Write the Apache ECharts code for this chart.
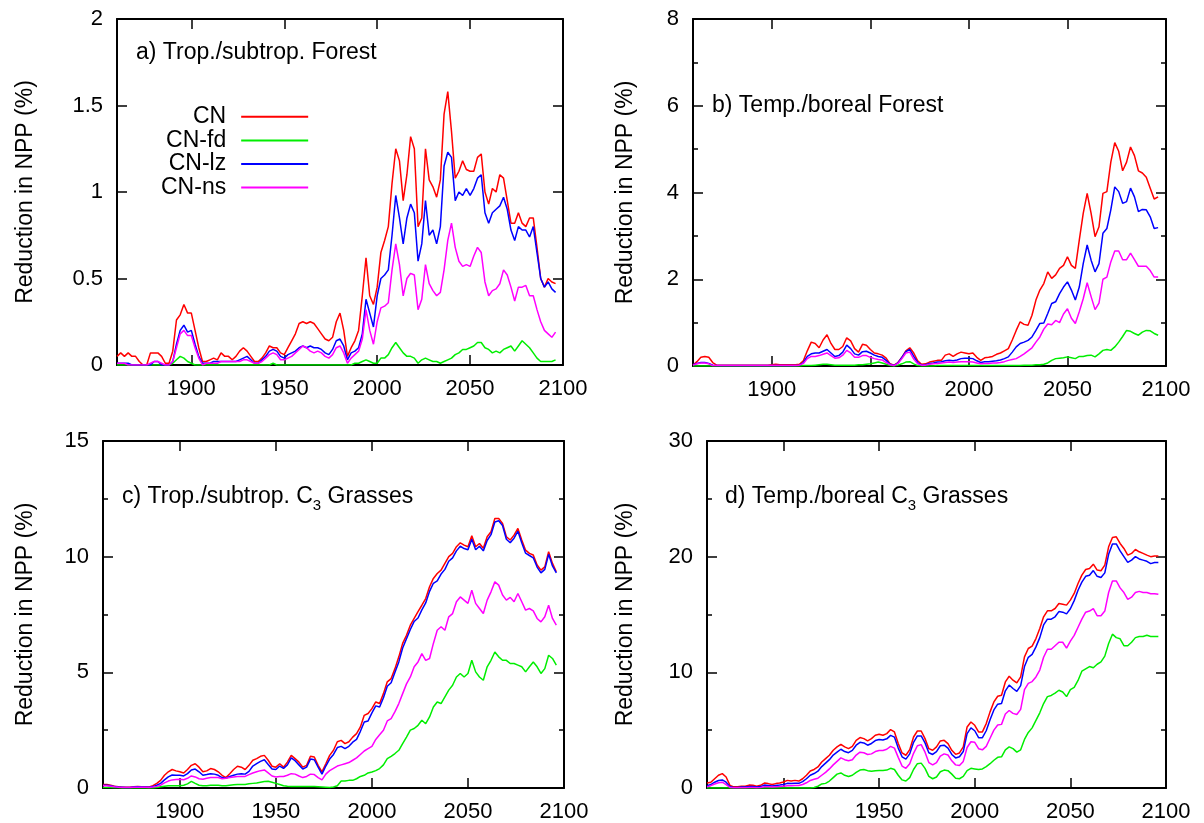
<!DOCTYPE html>
<html>
<head>
<meta charset="utf-8">
<script src="https://cdn.jsdelivr.net/npm/echarts@6/dist/echarts.min.js"></script>
<style>
html,body{margin:0;padding:0;background:#fff;}
#chart{width:1204px;height:823px;}
</style>
</head>
<body>
<div id="chart"></div>
<script>
// ---------- data (2-year steps 1860..2096) ----------
const years = Array.from({length: 119}, (_, i) => 1860 + 2 * i);
const seriesNames = ['CN', 'CN-fd', 'CN-lz', 'CN-ns'];
const xTickValues = [1900, 1950, 2000, 2050, 2100];

// a) Trop./subtrop. Forest
const aCN = [0.05,0.07,0.05,0.07,0.05,0.05,0.02,0.0,0.0,0.07,
  0.07,0.07,0.05,0.01,0.01,0.08,0.26,0.29,0.35,0.3,
  0.3,0.2,0.1,0.02,0.02,0.03,0.04,0.03,0.07,0.05,
  0.05,0.03,0.05,0.08,0.1,0.08,0.05,0.02,0.02,0.04,
  0.07,0.11,0.1,0.1,0.07,0.06,0.1,0.14,0.18,0.24,
  0.25,0.24,0.25,0.24,0.21,0.18,0.15,0.14,0.16,0.25,
  0.3,0.2,0.05,0.1,0.14,0.2,0.4,0.62,0.4,0.35,
  0.45,0.65,0.72,0.8,1.05,1.25,1.18,0.95,1.1,1.32,
  1.25,0.8,0.85,1.25,1.07,1.03,0.97,1.07,1.45,1.58,
  1.35,1.08,1.12,1.18,1.13,1.12,1.12,1.2,1.22,1.0,
  0.93,1.02,1.0,1.1,1.08,0.95,0.82,0.82,0.88,0.82,
  0.8,0.85,0.85,0.68,0.5,0.45,0.5,0.48,0.47];
const aFD = [0,0,0,0,0,0,0,0,0,0,
  0,0,0,0,0,0.01,0.03,0.05,0.04,0.02,
  0.01,0,0,0,0,0,0,0,0,0,
  0,0,0,0,0,0,0,0,0,0,
  0,0,0.01,0,0,0,0,0,0,0,
  0,0,0,0,0,0,0,0,0,0,
  0,0,0,0,0.01,0.01,0.02,0.03,0.02,0.01,
  0.01,0.04,0.04,0.06,0.1,0.13,0.1,0.07,0.05,0.05,
  0.04,0.01,0.03,0.04,0.03,0.02,0.02,0.01,0.02,0.03,
  0.04,0.06,0.07,0.09,0.09,0.1,0.11,0.13,0.13,0.1,
  0.09,0.07,0.08,0.07,0.09,0.1,0.11,0.08,0.11,0.14,
  0.12,0.1,0.07,0.04,0.02,0.02,0.02,0.02,0.03];
const aLZ = [0.01,0.01,0.01,0.01,0,0,0,0,0,0,
  0.02,0.02,0,0,0,0.02,0.12,0.2,0.23,0.19,
  0.2,0.12,0.05,0.01,0.01,0.01,0.02,0.02,0.02,0.02,
  0.02,0.02,0.02,0.03,0.04,0.05,0.03,0.01,0.01,0.03,
  0.05,0.08,0.09,0.08,0.05,0.04,0.06,0.07,0.08,0.1,
  0.11,0.1,0.11,0.1,0.1,0.09,0.07,0.06,0.09,0.14,
  0.15,0.11,0.03,0.07,0.08,0.1,0.18,0.38,0.3,0.22,
  0.4,0.5,0.52,0.55,0.75,0.98,0.85,0.7,0.85,0.93,
  0.88,0.6,0.7,0.95,0.75,0.78,0.7,0.8,1.15,1.23,
  1.2,0.95,1.0,0.98,1.02,0.98,1.02,1.08,1.1,0.88,
  0.82,0.88,0.9,0.92,0.97,0.9,0.78,0.72,0.8,0.78,
  0.78,0.74,0.8,0.65,0.5,0.45,0.48,0.44,0.42];
const aNS = [0.01,0.01,0.01,0,0,0,0,0,0,0.01,
  0.02,0.02,0.01,0,0,0.02,0.1,0.18,0.2,0.17,
  0.17,0.1,0.04,0,0.01,0.01,0.01,0.01,0.02,0.02,
  0.02,0.02,0.02,0.02,0.03,0.03,0.02,0.01,0.01,0.02,
  0.04,0.06,0.07,0.06,0.03,0.03,0.04,0.05,0.07,0.09,
  0.11,0.1,0.08,0.07,0.08,0.07,0.05,0.04,0.06,0.1,
  0.11,0.07,0.01,0.04,0.06,0.08,0.15,0.32,0.2,0.12,
  0.25,0.33,0.34,0.36,0.55,0.7,0.58,0.4,0.5,0.53,
  0.52,0.32,0.38,0.58,0.47,0.43,0.4,0.42,0.55,0.72,
  0.82,0.68,0.6,0.57,0.58,0.57,0.63,0.68,0.65,0.48,
  0.4,0.43,0.44,0.47,0.55,0.52,0.45,0.37,0.45,0.45,
  0.46,0.4,0.4,0.32,0.25,0.2,0.18,0.16,0.19];

// b) Temp./boreal Forest
const bCN = [0.02,0.1,0.2,0.22,0.2,0.08,0.02,0.02,0.02,0.02,
  0.02,0.02,0.02,0.02,0.02,0.02,0.02,0.02,0.02,0.02,
  0.03,0.04,0.03,0.03,0.03,0.03,0.03,0.04,0.12,0.35,
  0.55,0.52,0.42,0.6,0.72,0.52,0.38,0.38,0.45,0.65,
  0.58,0.4,0.32,0.5,0.48,0.38,0.3,0.28,0.25,0.18,
  0.05,0.02,0.08,0.2,0.35,0.42,0.3,0.12,0.04,0.05,
  0.09,0.11,0.13,0.13,0.25,0.28,0.22,0.28,0.32,0.3,
  0.28,0.3,0.2,0.13,0.19,0.2,0.22,0.27,0.3,0.35,
  0.4,0.6,0.82,1.02,0.96,0.94,1.17,1.52,1.75,1.9,
  2.17,2.02,2.1,2.25,2.32,2.52,2.32,2.25,2.9,3.52,
  3.98,3.52,2.98,3.21,3.98,4.02,4.7,5.15,4.95,4.5,
  4.7,5.05,4.85,4.5,4.45,4.35,4.1,3.85,3.9];
const bFD = [0,0,0,0,0,0,0,0,0,0,
  0,0,0,0,0,0,0,0,0,0,
  0,0,0,0,0,0,0,0,0.01,0.01,
  0.01,0.02,0.03,0.04,0.04,0.03,0.02,0.02,0.02,0.02,
  0.02,0.02,0.03,0.03,0.04,0.05,0.07,0.09,0.07,0.04,
  0.01,0,0.02,0.05,0.09,0.1,0.05,0.01,0,0,
  0,0,0.01,0.01,0.01,0.01,0.01,0.01,0.01,0.01,
  0.01,0.01,0.01,0.01,0.01,0.01,0.01,0.01,0.01,0.01,
  0.01,0.01,0.01,0.01,0.02,0.02,0.02,0.03,0.03,0.04,
  0.07,0.13,0.17,0.18,0.19,0.21,0.19,0.17,0.22,0.22,
  0.24,0.25,0.21,0.28,0.36,0.38,0.36,0.44,0.55,0.68,
  0.82,0.8,0.75,0.71,0.78,0.82,0.81,0.75,0.71];
const bLZ = [0.03,0.06,0.08,0.08,0.06,0.02,0.01,0.01,0.01,0.01,
  0.01,0.01,0.01,0.01,0.01,0.01,0.01,0.01,0.01,0.01,
  0.01,0.01,0.01,0.01,0.01,0.01,0.01,0.02,0.08,0.22,
  0.28,0.3,0.3,0.34,0.38,0.3,0.22,0.24,0.32,0.48,
  0.4,0.28,0.25,0.33,0.34,0.3,0.25,0.22,0.2,0.13,
  0.04,0.01,0.07,0.2,0.33,0.38,0.22,0.08,0.02,0.03,
  0.06,0.07,0.09,0.1,0.12,0.13,0.12,0.14,0.17,0.18,
  0.18,0.17,0.12,0.08,0.1,0.1,0.11,0.12,0.14,0.17,
  0.21,0.32,0.44,0.52,0.55,0.59,0.67,0.82,0.98,0.99,
  1.21,1.44,1.48,1.67,1.82,1.94,1.75,1.52,1.82,2.36,
  2.79,2.44,2.17,2.36,3.06,3.17,3.6,4.13,4.02,3.75,
  3.79,4.1,3.9,3.56,3.61,3.6,3.44,3.17,3.19];
const bNS = [0.02,0.05,0.07,0.07,0.05,0.01,0.01,0.01,0.01,0.01,
  0.01,0.01,0.01,0.01,0.01,0.01,0.01,0.01,0.01,0.01,
  0.01,0.01,0.01,0.01,0.01,0.01,0.01,0.02,0.06,0.17,
  0.22,0.22,0.24,0.27,0.3,0.24,0.18,0.19,0.25,0.36,
  0.3,0.2,0.2,0.24,0.24,0.2,0.17,0.15,0.14,0.08,
  0.03,0.01,0.06,0.17,0.3,0.32,0.16,0.05,0.02,0.02,
  0.04,0.05,0.06,0.07,0.08,0.09,0.08,0.09,0.1,0.1,
  0.1,0.09,0.07,0.05,0.06,0.06,0.07,0.07,0.08,0.1,
  0.13,0.15,0.17,0.22,0.28,0.35,0.42,0.55,0.67,0.85,
  0.97,0.95,1.05,1.0,1.2,1.32,1.1,0.98,1.25,1.55,
  1.92,1.6,1.3,1.45,2.0,2.05,2.4,2.65,2.65,2.45,
  2.45,2.6,2.45,2.3,2.3,2.3,2.2,2.05,2.05];

// c) Trop./subtrop. C3 Grasses
const cCN = [0.15,0.15,0.12,0.08,0.05,0.03,0.03,0.03,0.05,0.06,
  0.05,0.05,0.04,0.1,0.2,0.33,0.55,0.7,0.8,0.74,
  0.7,0.65,0.8,0.98,1.05,0.9,0.7,0.74,0.84,0.8,
  0.7,0.55,0.45,0.62,0.8,0.94,0.9,0.8,0.98,1.2,
  1.27,1.37,1.41,1.2,0.94,0.9,1.05,0.9,1.12,1.41,
  1.27,1.12,0.9,0.98,1.37,1.34,0.98,0.7,1.05,1.41,
  1.63,2.0,2.06,1.92,2.0,2.2,2.35,2.64,3.14,3.22,
  3.43,3.72,3.65,4.08,4.59,4.73,5.16,5.67,6.25,6.6,
  7.04,7.33,7.62,7.9,8.19,8.7,9.06,9.27,9.42,9.71,
  10.0,10.14,10.43,10.6,10.5,10.43,10.9,10.43,10.57,10.36,
  10.86,11.08,11.65,11.65,11.44,10.86,10.72,10.93,11.22,10.72,
  10.28,10.14,10.07,9.64,9.42,9.56,10.21,9.71,9.35];
const cFD = [0.02,0.02,0.02,0.01,0.01,0,0,0,0,0,
  0,0,0,0,0.02,0.05,0.08,0.1,0.1,0.1,
  0.1,0.12,0.18,0.29,0.2,0.12,0.1,0.1,0.12,0.12,
  0.12,0.1,0.1,0.12,0.14,0.15,0.15,0.15,0.18,0.2,
  0.22,0.25,0.28,0.29,0.25,0.2,0.15,0.1,0.08,0.07,
  0.07,0.06,0.06,0.06,0.07,0.06,0.05,0.04,0.03,0.02,
  0.04,0.1,0.3,0.3,0.33,0.33,0.4,0.5,0.55,0.65,
  0.69,0.75,0.84,1.0,1.27,1.37,1.49,1.63,1.92,2.2,
  2.5,2.57,2.71,2.93,2.78,3.07,3.5,3.72,3.65,3.94,
  4.23,4.44,4.8,4.95,4.8,4.95,5.52,5.02,4.8,4.66,
  5.24,5.52,5.88,5.67,5.52,5.52,5.38,5.38,5.31,5.24,
  5.02,5.24,5.45,5.24,4.95,5.16,5.74,5.6,5.31];
const cLZ = [0.12,0.12,0.1,0.06,0.04,0.03,0.02,0.02,0.04,0.05,
  0.04,0.04,0.03,0.06,0.12,0.2,0.35,0.48,0.56,0.55,
  0.55,0.52,0.62,0.78,0.82,0.7,0.55,0.58,0.62,0.6,
  0.55,0.45,0.42,0.5,0.55,0.6,0.62,0.6,0.72,0.95,
  1.05,1.15,1.22,1.02,0.82,0.8,0.95,0.85,1.0,1.3,
  1.18,1.0,0.82,0.9,1.25,1.22,0.9,0.6,0.95,1.25,
  1.45,1.75,1.8,1.7,1.8,1.98,2.1,2.45,2.85,2.9,
  3.25,3.55,3.5,3.9,4.4,4.55,5.0,5.45,6.05,6.45,
  6.85,7.2,7.35,7.7,8.0,8.5,8.85,8.95,9.25,9.45,
  9.8,9.95,10.25,10.45,10.35,10.3,10.75,10.3,10.45,10.25,
  10.7,10.95,11.5,11.55,11.35,10.75,10.6,10.8,11.1,10.6,
  10.15,10.05,9.95,9.55,9.3,9.45,10.1,9.6,9.3];
const cNS = [0.1,0.1,0.08,0.05,0.03,0.02,0.02,0.02,0.03,0.03,
  0.03,0.03,0.02,0.04,0.07,0.12,0.22,0.3,0.35,0.37,
  0.38,0.36,0.42,0.52,0.48,0.4,0.38,0.42,0.45,0.45,
  0.45,0.4,0.42,0.45,0.48,0.5,0.5,0.5,0.58,0.65,
  0.7,0.75,0.78,0.65,0.52,0.48,0.5,0.5,0.55,0.62,
  0.6,0.52,0.45,0.5,0.6,0.58,0.45,0.35,0.6,0.75,
  0.85,0.95,1.0,1.05,1.1,1.2,1.3,1.45,1.6,1.7,
  1.8,2.1,2.3,2.5,2.9,3.0,3.3,3.65,4.08,4.5,
  4.8,5.24,5.45,5.81,5.52,5.6,6.25,6.82,6.97,6.82,
  7.4,7.54,8.05,8.26,8.12,7.98,8.55,7.98,7.76,7.54,
  8.12,8.48,8.91,8.77,8.34,8.12,8.24,8.05,8.41,8.05,
  7.69,7.76,7.66,7.33,7.18,7.4,7.9,7.33,7.04];

// d) Temp./boreal C3 Grasses
const dCN = [0.43,0.5,0.8,1.1,1.24,0.95,0.23,0.1,0.1,0.15,
  0.15,0.25,0.23,0.15,0.23,0.43,0.38,0.3,0.38,0.43,
  0.52,0.66,0.6,0.66,0.6,0.8,1.1,1.47,1.6,1.82,
  2.25,2.54,2.83,3.26,3.55,3.78,3.55,3.4,3.6,4.12,
  4.36,4.27,4.07,4.27,4.56,4.64,4.56,4.7,5.05,4.85,
  3.84,3.03,2.83,3.32,4.41,4.93,4.93,4.27,3.4,3.26,
  3.55,4.07,4.12,3.84,3.26,2.91,3.03,3.55,5.28,5.71,
  5.42,4.85,4.85,5.57,6.58,7.44,7.93,8.02,9.17,9.66,
  9.32,9.09,9.6,11.34,12.06,12.26,12.92,13.79,14.8,15.32,
  15.32,15.52,15.95,15.89,15.81,16.24,16.82,17.68,18.4,18.89,
  18.98,19.35,18.84,18.78,19.27,20.85,21.66,21.72,21.14,20.71,
  20.13,20.28,20.62,20.42,20.28,20.13,20.0,20.05,20.05];
const dFD = [0,0,0,0,0,0,0,0,0,0,
  0,0,0,0,0,0,0,0,0,0,
  0,0,0,0,0,0,0,0,0.05,0.15,
  0.35,0.4,0.6,0.9,1.2,1.3,1.1,1.0,1.1,1.35,
  1.55,1.6,1.5,1.45,1.5,1.52,1.52,1.55,1.7,1.6,
  1.1,0.7,0.6,0.9,1.6,2.1,2.15,1.7,1.0,0.8,
  0.95,1.4,1.55,1.5,1.2,0.85,0.8,1.0,1.5,1.7,
  1.65,1.6,1.65,1.85,2.1,2.4,2.65,2.7,3.3,3.55,
  3.4,3.1,3.3,4.2,4.8,5.2,5.85,6.5,7.3,7.9,
  8.0,8.2,8.45,8.3,7.9,8.5,8.7,9.3,10.1,10.3,
  10.5,10.4,10.7,10.9,11.4,12.5,13.3,13.0,12.9,12.3,
  12.3,12.6,13.0,13.1,13.1,13.2,13.1,13.1,13.1];
const dLZ = [0.2,0.3,0.5,0.65,0.7,0.5,0.1,0.05,0.05,0.08,
  0.08,0.12,0.12,0.08,0.12,0.25,0.22,0.18,0.22,0.25,
  0.3,0.4,0.38,0.42,0.4,0.55,0.8,1.1,1.25,1.45,
  1.85,2.15,2.45,2.85,3.1,3.35,3.15,3.05,3.25,3.7,
  3.95,3.9,3.7,3.85,4.1,4.2,4.15,4.25,4.55,4.4,
  3.45,2.7,2.5,2.95,3.95,4.5,4.5,3.9,3.05,2.9,
  3.15,3.65,3.7,3.45,2.9,2.6,2.7,3.15,4.7,5.2,
  4.95,4.35,4.35,4.95,5.9,6.75,7.25,7.3,8.4,8.9,
  8.6,8.35,8.85,10.5,11.3,11.55,12.2,13.0,14.1,14.6,
  14.6,14.8,15.25,15.2,15.05,15.5,16.2,17.1,17.8,18.3,
  18.4,18.8,18.3,18.2,18.6,20.2,21.1,21.1,20.5,20.0,
  19.5,19.7,20.0,19.8,19.7,19.6,19.4,19.5,19.5];
const dNS = [0.1,0.2,0.35,0.45,0.5,0.3,0.05,0.02,0.02,0.03,
  0.03,0.05,0.05,0.03,0.05,0.1,0.1,0.08,0.1,0.12,
  0.15,0.2,0.2,0.22,0.22,0.3,0.45,0.65,0.75,0.85,
  1.1,1.35,1.65,2.0,2.3,2.6,2.45,2.35,2.45,2.85,
  3.1,3.05,2.9,2.95,3.15,3.25,3.25,3.35,3.6,3.45,
  2.65,1.9,1.7,2.1,3.0,3.65,3.75,3.1,2.2,2.0,
  2.2,2.75,2.95,2.85,2.35,2.0,1.95,2.3,3.5,4.0,
  3.95,3.4,3.3,3.6,4.3,5.0,5.45,5.5,6.4,6.7,
  6.45,6.35,6.8,8.5,9.05,9.2,9.6,10.2,11.3,12.0,
  12.0,12.3,12.6,12.6,12.1,12.7,13.2,13.9,14.6,15.2,
  15.3,15.5,14.9,14.9,15.3,16.9,17.9,17.9,17.3,16.9,
  16.3,16.5,16.9,17.0,16.9,16.9,16.8,16.8,16.75];

// ---------- chart ----------
const FONT = '"Liberation Sans", Arial, Helvetica, sans-serif';
const colors = ['#ff0000', '#00ee00', '#0000ff', '#ff00ff'];

const panels = [
  {grid: {left: 117, top: 19, width: 446, height: 346}, yMax: 2, yInt: 0.5, minor: false, nameGap: 80,
   data: [aCN, aFD, aLZ, aNS]},
  {grid: {left: 693, top: 19, width: 473, height: 347}, yMax: 8, yInt: 2, minor: true, nameGap: 56,
   data: [bCN, bFD, bLZ, bNS]},
  {grid: {left: 103, top: 441, width: 461, height: 347}, yMax: 15, yInt: 5, minor: true, nameGap: 66,
   data: [cCN, cFD, cLZ, cNS]},
  {grid: {left: 707, top: 441, width: 459, height: 347}, yMax: 30, yInt: 10, minor: true, nameGap: 70,
   data: [dCN, dFD, dLZ, dNS]}
];

const axisLine = {show: true, onZero: false, lineStyle: {color: '#000', width: 2}};
const tickStyle = {color: '#000', width: 1.5};

const grids = [], xAxes = [], yAxes = [], series = [];
panels.forEach((p, gi) => {
  grids.push(Object.assign({containLabel: false}, p.grid));
  ['bottom', 'top'].forEach(pos => {
    xAxes.push({
      type: 'value', gridIndex: gi, position: pos, min: 1860, max: 2100,
      splitLine: {show: false}, axisLine: axisLine,
      axisTick: {show: true, inside: true, length: 10, lineStyle: tickStyle, customValues: xTickValues},
      axisLabel: pos === 'bottom'
        ? {show: true, customValues: xTickValues, margin: 13, fontSize: 22, color: '#000', fontFamily: FONT,
           formatter: v => String(v)}
        : {show: false}
    });
  });
  ['left', 'right'].forEach(pos => {
    const ax = {
      type: 'value', gridIndex: gi, position: pos, min: 0, max: p.yMax, interval: p.yInt,
      splitLine: {show: false}, minorSplitLine: {show: false}, axisLine: axisLine,
      axisTick: {show: true, inside: true, length: 10, lineStyle: tickStyle},
      minorTick: {show: p.minor, splitNumber: 2, length: 5, lineStyle: tickStyle},
      axisLabel: pos === 'left'
        ? {show: true, margin: 14, fontSize: 22, color: '#000', fontFamily: FONT}
        : {show: false}
    };
    if (pos === 'left') {
      Object.assign(ax, {
        name: 'Reduction in NPP (%)', nameLocation: 'middle', nameRotate: 90, nameGap: p.nameGap,
        nameTextStyle: {fontSize: 23, color: '#000', fontFamily: FONT}
      });
    }
    yAxes.push(ax);
  });
  p.data.forEach((arr, si) => {
    series.push({
      name: seriesNames[si], type: 'line', xAxisIndex: gi * 2, yAxisIndex: gi * 2,
      data: years.map((y, k) => [y, arr[k]]),
      symbol: 'none', showSymbol: false, silent: true, clip: true,
      lineStyle: {width: 1.5, color: colors[si]}, itemStyle: {color: colors[si]}
    });
  });
});

const richMain = {fontSize: 23, lineHeight: 33, verticalAlign: 'middle', color: '#000', fontFamily: FONT};
const richSub = {fontSize: 15, lineHeight: 16, verticalAlign: 'bottom', color: '#000', fontFamily: FONT};
const titleStyle = {fontSize: 23, fontWeight: 'normal', color: '#000', fontFamily: FONT};

const option = {
  animation: false,
  backgroundColor: '#fff',
  grid: grids,
  xAxis: xAxes,
  yAxis: yAxes,
  series: series,
  title: [
    {text: 'a) Trop./subtrop. Forest', left: 136, top: 41, padding: 0, textStyle: titleStyle},
    {text: 'b) Temp./boreal Forest', left: 712, top: 94, padding: 0, textStyle: titleStyle},
    {text: '{m|c) Trop./subtrop. C}{s|3}{m| Grasses}', left: 122, top: 480, padding: 0,
     textStyle: Object.assign({}, titleStyle, {rich: {m: richMain, s: richSub}})},
    {text: '{m|d) Temp./boreal C}{s|3}{m| Grasses}', left: 725, top: 480, padding: 0,
     textStyle: Object.assign({}, titleStyle, {rich: {m: richMain, s: richSub}})}
  ],
  legend: {
    data: seriesNames, orient: 'vertical', align: 'right', left: 156, top: 100,
    icon: 'rect', itemWidth: 67, itemHeight: 2, itemGap: 0, selectedMode: false,
    textStyle: {fontSize: 23, lineHeight: 23.6, padding: [0, 10, 0, 0], color: '#000', fontFamily: FONT}
  }
};

const chart = echarts.init(document.getElementById('chart'), null, {renderer: 'canvas'});
chart.setOption(option);
</script>
</body>
</html>
